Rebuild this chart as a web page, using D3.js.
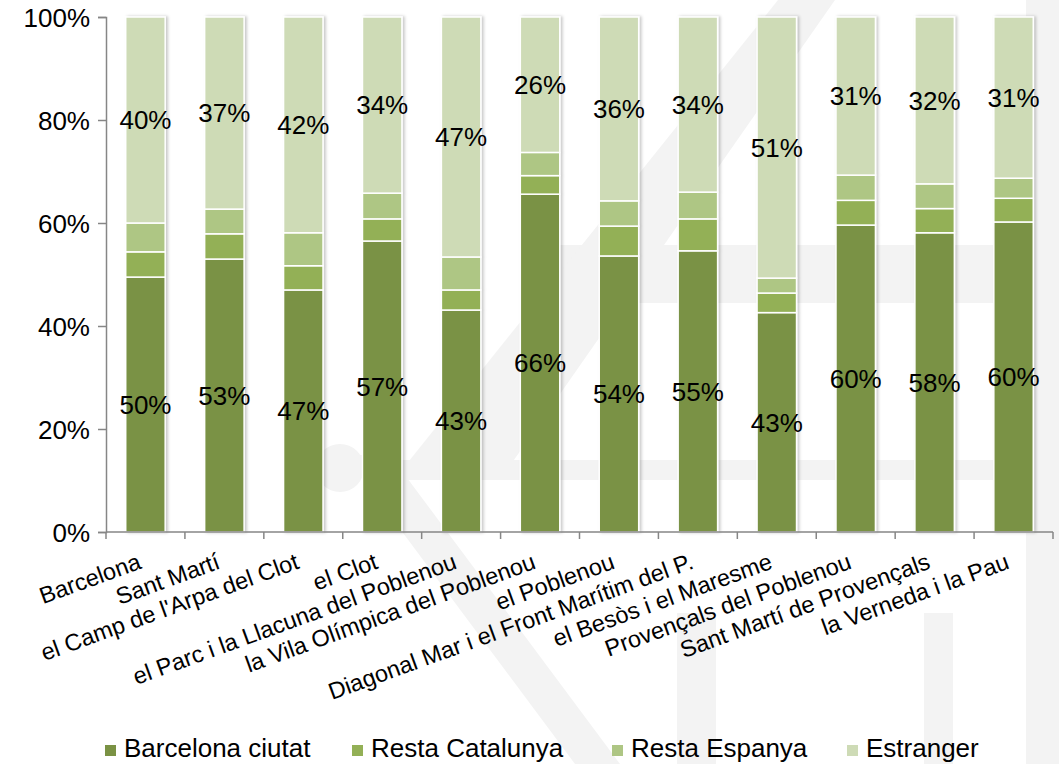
<!DOCTYPE html>
<html>
<head>
<meta charset="utf-8">
<script src="https://cdn.jsdelivr.net/npm/d3@7"></script>
<style>
  body { margin: 0; background: #fff; }
  svg { display: block; font-family: "Liberation Sans", Arial, sans-serif; }
</style>
</head>
<body>
<svg id="chart"></svg>
<script>
const barris = [
    'Barcelona', 'Sant Martí', "el Camp de l'Arpa del Clot", 'el Clot',
    'el Parc i la Llacuna del Poblenou', 'la Vila Olímpica del Poblenou', 'el Poblenou',
    'Diagonal Mar i el Front Marítim del P.', 'el Besòs i el Maresme',
    'Provençals del Poblenou', 'Sant Martí de Provençals', 'la Verneda i la Pau'
];
const series = ['Barcelona ciutat', 'Resta Catalunya', 'Resta Espanya', 'Estranger'];
const bcnCiutat = [49.5, 53.0, 47.0, 56.5, 43.1, 65.6, 53.6, 54.6, 42.6, 59.6, 58.1, 60.2];
const restaCat  = [4.9, 4.9, 4.7, 4.3, 3.9, 3.6, 5.8, 6.2, 3.8, 4.8, 4.7, 4.6];
const restaEsp  = [5.6, 4.8, 6.4, 5.0, 6.4, 4.5, 4.9, 5.2, 2.9, 4.9, 4.8, 3.9];
const estranger = [40.0, 37.3, 41.9, 34.2, 46.6, 26.3, 35.7, 34.0, 50.7, 30.7, 32.4, 31.3];
const yTicks = [0, 20, 40, 60, 80, 100];
const colors = ['#7a9244', '#93b056', '#aec684', '#cedbb6'];

const width = 1059;
const height = 764;
const plotLeft = 106, plotRight = 1053, plotTop = 17, plotBottom = 532;

const svg = d3.select('#chart').attr('width', width).attr('height', height);

// faint watermark in the background
const wm = svg.append('g').attr('fill', '#f3f3f3');
wm.append('rect').attr('x', 560).attr('y', 245).attr('width', 499).attr('height', 58);
wm.append('rect').attr('x', 380).attr('y', 460).attr('width', 679).attr('height', 20);
wm.append('rect').attr('x', 1026).attr('y', 0).attr('width', 33).attr('height', 764);
wm.append('rect').attr('x', 677).attr('y', 613).attr('width', 39).attr('height', 151);
wm.append('rect').attr('x', 924).attr('y', 613).attr('width', 29).attr('height', 151);
wm.append('polygon').attr('points', '405,466 778,0 835,0 500,480');
wm.append('polygon').attr('points', '345,455 390,455 620,764 575,764');
wm.append('circle').attr('cx', 340).attr('cy', 468).attr('r', 24);

const rows = barris.map((b, i) => ({
    barri: b,
    'Barcelona ciutat': bcnCiutat[i],
    'Resta Catalunya': restaCat[i],
    'Resta Espanya': restaEsp[i],
    'Estranger': estranger[i]
}));
const stacked = d3.stack().keys(series)(rows);

const xBand = d3.scaleBand().domain(barris).range([plotLeft, plotRight]).paddingInner(0.5).paddingOuter(0.25);
const xCat = d3.scaleBand().domain(barris).range([plotLeft, plotRight]);
const yScale = d3.scaleLinear().domain([0, 100]).range([plotBottom, plotTop]);

const defs = svg.append('defs');
const shadow = defs.append('filter').attr('id', 'shadow').attr('x', '-20%').attr('y', '-5%').attr('width', '150%').attr('height', '110%');
shadow.append('feDropShadow').attr('dx', 2).attr('dy', 0).attr('stdDeviation', 1.6)
    .attr('flood-color', '#000').attr('flood-opacity', 0.22);

// bars
const barG = svg.append('g').attr('filter', 'url(#shadow)');
stacked.forEach((layer, k) => {
    barG.selectAll(null)
    .data(layer)
    .enter()
    .append('rect')
    .attr('x', d => xBand(d.data.barri))
    .attr('width', xBand.bandwidth())
    .attr('y', d => yScale(d[1]))
    .attr('height', d => yScale(d[0]) - yScale(d[1]))
    .attr('fill', colors[k])
    .attr('stroke', '#fff')
    .attr('stroke-width', 1.5);
});

// axes
const axisColor = '#868686';
const yAxis = d3.axisLeft(yScale).tickValues(yTicks).tickFormat(d => d + '%').tickSize(8);
const gy = svg.append('g').attr('transform', `translate(${plotLeft},0)`).call(yAxis);
gy.select('.domain').attr('stroke', axisColor).attr('stroke-width', 1.5);
gy.selectAll('.tick line').attr('stroke', axisColor).attr('stroke-width', 1.5);
gy.selectAll('.tick text').attr('fill', '#000').attr('font-size', 26)
    .attr('font-family', '"Liberation Sans", Arial, sans-serif').attr('x', -16).attr('dy', '0.36em');

const gx = svg.append('g');
gx.append('line').attr('x1', plotLeft).attr('x2', plotRight).attr('y1', plotBottom).attr('y2', plotBottom)
    .attr('stroke', axisColor).attr('stroke-width', 1.5);
const tickPos = barris.map(b => xCat(b)).concat([plotRight]);
gx.selectAll('line.tk').data(tickPos).enter().append('line')
    .attr('class', 'tk')
    .attr('x1', d => d).attr('x2', d => d)
    .attr('y1', plotBottom).attr('y2', plotBottom + 7)
    .attr('stroke', axisColor).attr('stroke-width', 1.5);
gx.selectAll('text').data(barris).enter().append('text')
    .attr('transform', d => `translate(${xBand(d) + xBand.bandwidth() / 2 - 3},${568}) rotate(-20)`)
    .attr('text-anchor', 'end')
    .attr('font-size', 23.5)
    .attr('fill', '#000')
    .text(d => d);

// data labels: Barcelona ciutat and Estranger
[0, 3].forEach(k => {
    svg.append('g').selectAll('text')
    .data(stacked[k])
    .enter()
    .append('text')
    .attr('x', d => xBand(d.data.barri) + xBand.bandwidth() / 2)
    .attr('y', d => yScale((d[0] + d[1]) / 2))
    .attr('dy', '0.36em')
    .attr('text-anchor', 'middle')
    .attr('font-size', 26)
    .attr('fill', '#000')
    .text(d => Math.round(d[1] - d[0]) + '%');
});

// legend
const legendX = [105, 352, 612, 847];
const legend = svg.append('g').selectAll('g').data(series).enter().append('g')
    .attr('transform', (d, i) => `translate(${legendX[i]},745)`);
legend.append('rect').attr('width', 11).attr('height', 11).attr('fill', (d, i) => colors[i]);
legend.append('text').attr('x', 19).attr('y', 12).attr('font-size', 26).attr('fill', '#000').text(d => d);
</script>
</body>
</html>
